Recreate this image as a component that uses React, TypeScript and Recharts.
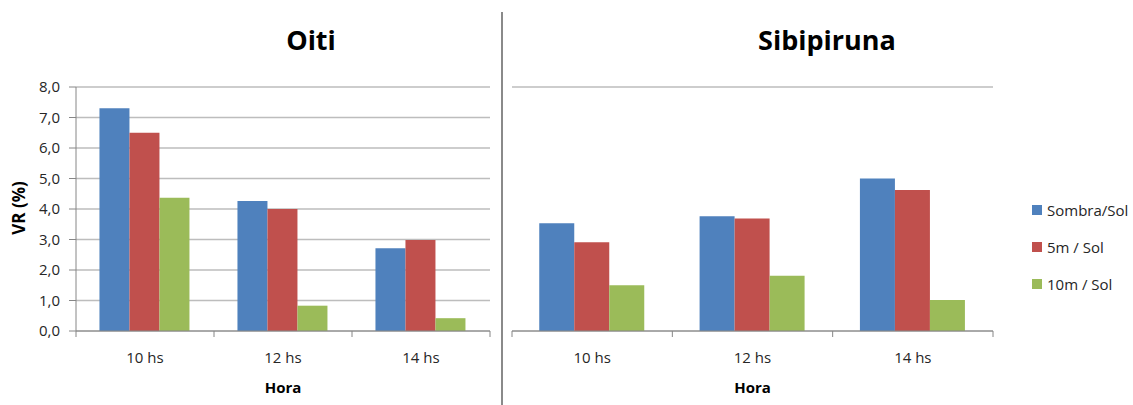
import React from "react";
import { Bar, BarChart, CartesianGrid, XAxis, YAxis } from "recharts";

const categories = ["10 hs", "12 hs", "14 hs"];
const seriesNames = ["Sombra/Sol", "5m / Sol", "10m / Sol"];
const seriesColors = ["#4F81BD", "#C0504D", "#9BBB59"];

const oitiSombra = [7.3, 4.26, 2.71];
const oiti5m = [6.5, 4.0, 2.98];
const oiti10m = [4.37, 0.83, 0.42];

const sibSombra = [3.53, 3.76, 5.0];
const sib5m = [2.91, 3.69, 4.62];
const sib10m = [1.5, 1.81, 1.02];

const yTicks = [0, 1, 2, 3, 4, 5, 6, 7, 8];

const FONT = "'Open Sans', sans-serif";
const GRID = "#BDBDBD";
const AXIS = "#868686";
const TICK_MARGIN = 22;

const toRows = (a: number[], b: number[], c: number[]) =>
    categories.map((name, i) => ({ name, s0: a[i], s1: b[i], s2: c[i] }));

const oitiData = toRows(oitiSombra, oiti5m, oiti10m);
const sibData = toRows(sibSombra, sib5m, sib10m);

const fmt = (v: number) => v.toFixed(1).replace(".", ",");

// category label plus tick marks on the category boundaries
const XTick = (props: any) => {
    const { x, y, payload } = props;
    const off = payload.offset || 0;
    const axisY = y - TICK_MARGIN;
    const last = payload.value === categories[categories.length - 1];
    return (
        <g>
            <line x1={x - off} x2={x - off} y1={axisY} y2={axisY + 6} stroke={AXIS} />
            {last && <line x1={x + off} x2={x + off} y1={axisY} y2={axisY + 6} stroke={AXIS} />}
            <text x={x} y={axisY + 32} textAnchor="middle" fontFamily={FONT} fontSize={15} fill="#262626">
                {payload.value}
            </text>
        </g>
    );
};

const horaLabel = (props: any) => {
    const { viewBox } = props;
    return (
        <text
            x={viewBox.x + viewBox.width / 2}
            y={viewBox.y + 62}
            textAnchor="middle"
            fontFamily={FONT}
            fontSize={15}
            fontWeight="bold"
            fill="#000"
        >
            Hora
        </text>
    );
};

const vrLabel = () => (
    <text
        x={0}
        y={0}
        transform="translate(25 208) rotate(-90)"
        textAnchor="middle"
        fontFamily={FONT}
        fontSize={17}
        fontWeight="bold"
        fill="#000"
    >
        VR (%)
    </text>
);

function Series() {
    return (
        <>
            {["s0", "s1", "s2"].map((k, i) => (
                <Bar key={k} dataKey={k} name={seriesNames[i]} fill={seriesColors[i]} isAnimationActive={false} />
            ))}
        </>
    );
}

const titleStyle = (left: number, width: number): React.CSSProperties => ({
    position: "absolute",
    left,
    width,
    top: 22,
    textAlign: "center",
    fontFamily: FONT,
    fontSize: 27,
    fontWeight: "bold",
    lineHeight: "36px",
    color: "#000",
});

export default function App() {
    return (
        <div style={{ position: "absolute", left: 0, top: 0, width: 1133, height: 405, background: "#fff", overflow: "hidden" }}>
            <div style={titleStyle(211, 200)}>Oiti</div>
            <div style={titleStyle(727, 200)}>Sibipiruna</div>
            <div style={{ position: "absolute", left: 501, top: 12, width: 2, height: 393, background: "#8A8A8A" }} />

            <div style={{ position: "absolute", left: 0, top: 0 }}>
                <BarChart
                    width={503}
                    height={405}
                    data={oitiData}
                    margin={{ top: 87, right: 13, bottom: 44, left: 0 }}
                    barCategoryGap="17%"
                    barGap={0}
                >
                    <CartesianGrid vertical={false} stroke={GRID} strokeWidth={1.3} />
                    <XAxis
                        dataKey="name"
                        height={30}
                        stroke={AXIS}
                        tickLine={false}
                        tickSize={0}
                        tickMargin={TICK_MARGIN}
                        tick={<XTick />}
                        label={horaLabel}
                    />
                    <YAxis
                        width={76}
                        domain={[0, 8]}
                        ticks={yTicks}
                        interval={0}
                        stroke={AXIS}
                        tickSize={7}
                        tickMargin={9}
                        tickFormatter={fmt}
                        tick={{ fontFamily: FONT, fontSize: 15, fill: "#262626" }}
                        label={vrLabel}
                    />
                    {Series()}
                </BarChart>
            </div>

            <div style={{ position: "absolute", left: 503, top: 0 }}>
                <BarChart
                    width={630}
                    height={405}
                    data={sibData}
                    margin={{ top: 87, right: 140, bottom: 44, left: 9 }}
                    barCategoryGap="17%"
                    barGap={0}
                >
                    <CartesianGrid vertical={false} stroke={GRID} strokeWidth={1.3} />
                    <XAxis
                        dataKey="name"
                        height={30}
                        stroke={AXIS}
                        tickLine={false}
                        tickSize={0}
                        tickMargin={TICK_MARGIN}
                        tick={<XTick />}
                        label={horaLabel}
                    />
                    <YAxis width={0} domain={[0, 8]} ticks={yTicks} interval={0} axisLine={false} tickLine={false} tick={false} />
                    {Series()}
                </BarChart>
            </div>

            {/* legend */}
            <div style={{ position: "absolute", left: 1032, top: 191, fontFamily: FONT, fontSize: 15, color: "#262626" }}>
                {seriesNames.map((n, i) => (
                    <div key={n} style={{ display: "flex", alignItems: "center", height: 37 }}>
                        <span style={{ width: 10, height: 10, background: seriesColors[i], marginRight: 5 }} />
                        {n}
                    </div>
                ))}
            </div>
        </div>
    );
}
